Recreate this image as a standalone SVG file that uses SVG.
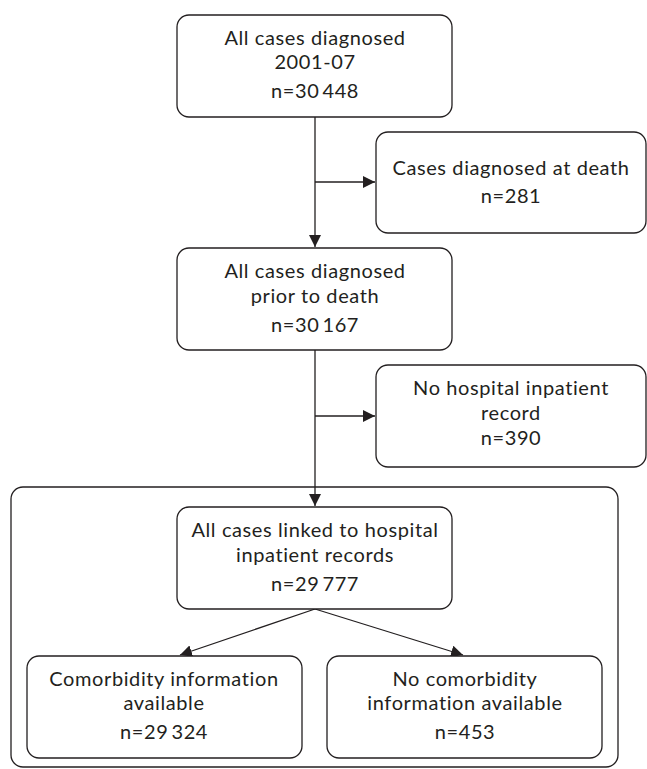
<svg xmlns="http://www.w3.org/2000/svg" width="647" height="769" viewBox="0 0 647 769">
<style>
.box{fill:#fff;stroke:#231f20;stroke-width:1.3}
.frame{fill:none;stroke:#231f20;stroke-width:1.3}
.t{font-family:Lato,"Liberation Sans",sans-serif;font-size:20px;letter-spacing:0.6px;fill:#231f20;text-anchor:middle}
.c{stroke:#231f20;stroke-width:1.3;fill:none}
</style>
<defs>
<marker id="ah" viewBox="0 0 10 10" refX="10" refY="5" markerWidth="12" markerHeight="12" markerUnits="userSpaceOnUse" orient="auto">
<path d="M0,0 L10,5 L0,10 Z" fill="#231f20"/>
</marker>
</defs>
<rect class="frame" x="11" y="487" width="607" height="280" rx="12"/>
<g id="connectors">
<line class="c" x1="315" y1="117" x2="315" y2="247" marker-end="url(#ah)"/>
<line class="c" x1="315" y1="182" x2="375" y2="182" marker-end="url(#ah)"/>
<line class="c" x1="315" y1="350" x2="315" y2="506" marker-end="url(#ah)"/>
<line class="c" x1="315" y1="416" x2="375" y2="416" marker-end="url(#ah)"/>
<line class="c" x1="315" y1="609" x2="180" y2="655" marker-end="url(#ah)"/>
<line class="c" x1="315" y1="609" x2="463" y2="655" marker-end="url(#ah)"/>
</g>
<g id="n1">
<rect class="box" x="177" y="15" width="275" height="102" rx="12"/>
<text class="t" x="315" y="45">All cases diagnosed</text>
<text class="t" x="315" y="69">2001-07</text>
<text class="t" x="315" y="98">n=30&#8201;448</text>
</g>
<g id="n2">
<rect class="box" x="376" y="132" width="270" height="101" rx="12"/>
<text class="t" x="511" y="175">Cases diagnosed at death</text>
<text class="t" x="511" y="203">n=281</text>
</g>
<g id="n3">
<rect class="box" x="177" y="248" width="275" height="102" rx="12"/>
<text class="t" x="315" y="278">All cases diagnosed</text>
<text class="t" x="315" y="303">prior to death</text>
<text class="t" x="315" y="332">n=30&#8201;167</text>
</g>
<g id="n4">
<rect class="box" x="376" y="365" width="270" height="102" rx="12"/>
<text class="t" x="511" y="395">No hospital inpatient</text>
<text class="t" x="511" y="420">record</text>
<text class="t" x="511" y="445">n=390</text>
</g>
<g id="n5">
<rect class="box" x="177" y="507" width="275" height="102" rx="12"/>
<text class="t" x="315" y="537">All cases linked to hospital</text>
<text class="t" x="315" y="562">inpatient records</text>
<text class="t" x="315" y="591">n=29&#8201;777</text>
</g>
<g id="n6">
<rect class="box" x="27" y="656" width="275" height="102" rx="12"/>
<text class="t" x="164" y="686">Comorbidity information</text>
<text class="t" x="164" y="710">available</text>
<text class="t" x="164" y="739">n=29&#8201;324</text>
</g>
<g id="n7">
<rect class="box" x="327" y="656" width="275" height="102" rx="12"/>
<text class="t" x="465" y="686">No comorbidity</text>
<text class="t" x="465" y="710">information available</text>
<text class="t" x="465" y="739">n=453</text>
</g>
</svg>
